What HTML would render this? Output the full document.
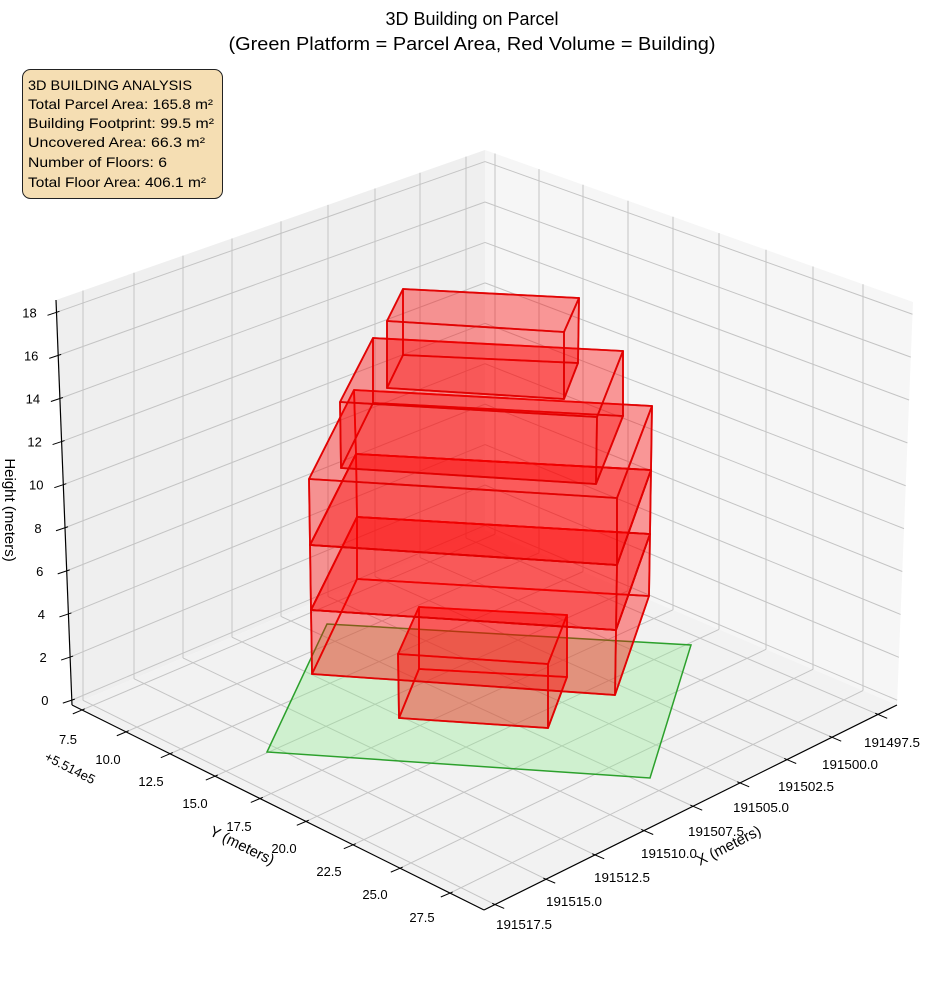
<!DOCTYPE html>
<html><head><meta charset="utf-8">
<style>
html,body{margin:0;padding:0;background:#fff;}
svg{display:block;font-family:"Liberation Sans","DejaVu Sans",sans-serif;}
</style></head>
<body>
<svg id="s" width="944" height="992" viewBox="0 0 944 992" xmlns="http://www.w3.org/2000/svg">
<text x="472" y="25" text-anchor="middle" font-size="18" fill="#000">3D Building on Parcel</text>
<text x="472" y="50" text-anchor="middle" font-size="18" fill="#000" textLength="487" lengthAdjust="spacingAndGlyphs">(Green Platform = Parcel Area, Red Volume = Building)</text>
<g id="g"></g>
<rect x="22.5" y="69.5" width="200" height="129" rx="8" ry="8" fill="#f5deb3" stroke="#222" stroke-width="1"/>
<g font-size="14" fill="#000">
<text x="28" y="90" textLength="164" lengthAdjust="spacingAndGlyphs">3D BUILDING ANALYSIS</text>
<text x="28" y="109" textLength="185" lengthAdjust="spacingAndGlyphs">Total Parcel Area: 165.8 m²</text>
<text x="28" y="128" textLength="186" lengthAdjust="spacingAndGlyphs">Building Footprint: 99.5 m²</text>
<text x="28" y="147" textLength="177" lengthAdjust="spacingAndGlyphs">Uncovered Area: 66.3 m²</text>
<text x="28" y="167" textLength="139" lengthAdjust="spacingAndGlyphs">Number of Floors: 6</text>
<text x="28" y="187" textLength="178" lengthAdjust="spacingAndGlyphs">Total Floor Area: 406.1 m²</text>
</g>
</svg>
<script>
(function(){
var NS="http://www.w3.org/2000/svg",g=document.getElementById("g");
function el(n,a,t){var e=document.createElementNS(NS,n);for(var k in a)e.setAttribute(k,a[k]);if(t!==undefined)e.textContent=t;g.appendChild(e);return e;}
function lerp(p,q,t){return [p[0]+(q[0]-p[0])*t,p[1]+(q[1]-p[1])*t];}
var L=[72,705],B=[485,530],R=[897,705],F=[484,910],Lt=[56,300],Bt=[485,150],Rt=[913,302];
function pts(a){return a.map(function(p){return p[0].toFixed(1)+","+p[1].toFixed(1)}).join(" ");}
function line(p,q,c,w){el("line",{x1:p[0],y1:p[1],x2:q[0],y2:q[1],stroke:c,"stroke-width":w});}
function yAt(p,q,x){return p[1]+(q[1]-p[1])*(x-p[0])/(q[0]-p[0]);}
el("polygon",{points:pts([L,B,Bt,Lt]),fill:"#efefef"});
el("polygon",{points:pts([B,R,Rt,Bt]),fill:"#f6f6f6"});
el("polygon",{points:pts([L,B,R,F]),fill:"#f2f2f2"});
var A=[83,134,183,232,281,328,375,420,466].map(function(x){return (x-72)/413;});
var Bv=[495,539,583,628,673,719,766,813,863].map(function(x){return (x-485)/412;});
function zf(z){return 0.012+0.0532*z;}
function P(a,b){return [L[0]*(1-a)*(1-b)+B[0]*a*(1-b)+F[0]*(1-a)*b+R[0]*a*b, L[1]*(1-a)*(1-b)+B[1]*a*(1-b)+F[1]*(1-a)*b+R[1]*a*b];}
var gc="#c4c4c4";
A.forEach(function(a){var p=lerp(L,B,a);line(p,[p[0],yAt(Lt,Bt,p[0])],gc,1);line(P(a,0),P(a,1),gc,1);});
Bv.forEach(function(b){var p=lerp(B,R,b);line(p,[p[0],yAt(Bt,Rt,p[0])],gc,1);line(P(0,b),P(1,b),gc,1);});
for(var z=0;z<=18;z+=2){var t=zf(z);line(lerp(L,Lt,t),lerp(B,Bt,t),gc,1);line(lerp(B,Bt,t),lerp(R,Rt,t),gc,1);}
line(L,Lt,"#000",1.2);line(L,F,"#000",1.2);line(F,R,"#000",1.2);
for(var z=0;z<=18;z+=2){var p=lerp(L,Lt,zf(z));line([p[0]-9,p[1]+3],[p[0]+3,p[1]-1],"#000",1);
 el("text",{x:p[0]-27,y:p[1]+5,"text-anchor":"middle","font-size":"13"},String(z));}
var d=[0.92,-0.39];
var ylab=["7.5","10.0","12.5","15.0","17.5","20.0","22.5","25.0","27.5"];
var ypos=[[68,739],[108,759],[151,781],[195,803],[239,826],[284,848],[329,871],[375,894],[422,917]];
Bv.forEach(function(b,i){var p=lerp(L,F,b);line([p[0]-10*d[0],p[1]-10*d[1]],[p[0]+3*d[0],p[1]+3*d[1]],"#000",1);
 el("text",{x:ypos[i][0],y:ypos[i][1]+5,"text-anchor":"middle","font-size":"13"},ylab[i]);});
var u=[0.92,0.39];
var xlab=["191517.5","191515.0","191512.5","191510.0","191507.5","191505.0","191502.5","191500.0","191497.5"];
var xpos=[[524,924],[574,901],[622,877],[669,853],[716,831],[761,807],[806,786],[850,764],[892,742]];
A.forEach(function(a,i){var p=lerp(F,R,a);line([p[0]-3*u[0],p[1]-3*u[1]],[p[0]+10*u[0],p[1]+10*u[1]],"#000",1);
 el("text",{x:xpos[i][0],y:xpos[i][1]+5,"text-anchor":"middle","font-size":"13",textLength:"56",lengthAdjust:"spacingAndGlyphs"},xlab[i]);});
el("text",{x:5,y:510,"text-anchor":"middle","font-size":"15",transform:"rotate(90 5 510)"},"Height (meters)");
el("text",{x:240,y:850,"text-anchor":"middle","font-size":"15",transform:"rotate(26 240 850)"},"Y (meters)");
el("text",{x:731,y:850,"text-anchor":"middle","font-size":"15",transform:"rotate(-27 731 850)"},"X (meters)");
el("text",{x:68,y:772,"text-anchor":"middle","font-size":"13",transform:"rotate(27 68 772)"},"+5.514e5");
el("polygon",{points:pts([[327,624],[691,645],[650,778],[267,752]]),fill:"rgb(144,238,144)","fill-opacity":"0.35",stroke:"#2ca02c","stroke-width":"1.5"});
var boxes=[
[[399,718],[548,728],[567,677],[419,669],[398,654],[548,664],[567,615],[419,607]],
[[312,674],[615,695],[649,596],[357,579],[311,610],[616,630],[650,534],[357,517]],
[[311,610],[616,630],[650,534],[357,517],[310,545],[617,565],[651,470],[356,454]],
[[310,545],[617,565],[651,470],[356,454],[309,479],[617,498],[652,406],[354,390]],
[[341,468],[596,484],[623,416],[373,403],[340,402],[597,417],[623,351],[373,338]],
[[387,388],[564,399],[578,363],[403,355],[387,321],[564,332],[579,298],[403,289]]];
var faces=[[3,2,6,7],[0,3,7,4],[1,2,6,5],[0,1,2,3],[0,1,5,4],[4,5,6,7]];
boxes.forEach(function(bx){faces.forEach(function(f){
 el("polygon",{points:pts(f.map(function(i){return bx[i];})),fill:"#ff0000","fill-opacity":"0.22",stroke:"#e00000","stroke-opacity":"0.85","stroke-width":"1.8","stroke-linejoin":"round"});});});
})();
</script>
</body></html>
